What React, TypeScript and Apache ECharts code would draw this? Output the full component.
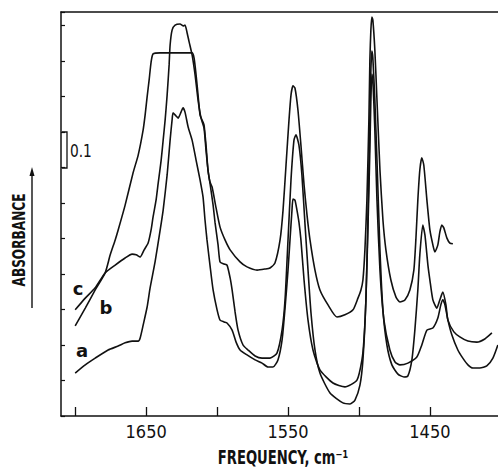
import React, { useEffect, useRef } from "react";
import * as echarts from "echarts";

// Wavenumber (cm-1) vs absorbance for the three spectra.
const FREQ_TICKS = [1450, 1500, 1550, 1600, 1650, 1700];
const FREQ_LABELS = [1450, 1550, 1650];

const spectrumA: [number, number][] = [
  [1700.0, 0.121], [1692.9, 0.144], [1685.9, 0.163], [1676.8, 0.186], [1669.7, 0.197],
  [1664.8, 0.206], [1659.9, 0.211], [1655.6, 0.211], [1654.2, 0.22], [1652.1, 0.256],
  [1649.3, 0.307], [1647.2, 0.361], [1643.7, 0.434], [1640.1, 0.524], [1638.0, 0.58],
  [1635.2, 0.679], [1633.1, 0.777], [1631.7, 0.834], [1631.0, 0.854], [1628.9, 0.845],
  [1627.5, 0.839], [1625.4, 0.856], [1624.0, 0.868], [1622.6, 0.856], [1620.4, 0.814],
  [1617.6, 0.777], [1614.8, 0.721], [1612.0, 0.665], [1609.9, 0.617], [1608.5, 0.552],
  [1607.1, 0.496], [1605.0, 0.425], [1602.8, 0.355], [1600.0, 0.299], [1597.9, 0.27],
  [1595.1, 0.265], [1593.0, 0.262], [1589.4, 0.242], [1586.6, 0.208], [1583.8, 0.186],
  [1578.9, 0.172], [1573.2, 0.158], [1568.3, 0.149], [1564.1, 0.138], [1560.6, 0.138],
  [1557.1, 0.158], [1554.2, 0.214], [1552.1, 0.304], [1550.0, 0.411], [1548.6, 0.496],
  [1547.2, 0.58], [1546.5, 0.611], [1545.1, 0.608], [1543.7, 0.58], [1542.3, 0.546],
  [1540.9, 0.496], [1538.7, 0.383], [1535.9, 0.27], [1532.4, 0.186], [1527.5, 0.13],
  [1518.3, 0.093], [1509.9, 0.082], [1501.4, 0.101], [1497.9, 0.158], [1496.5, 0.214],
  [1495.1, 0.327], [1493.7, 0.524], [1492.3, 0.749], [1491.6, 0.89], [1490.9, 0.963],
  [1490.2, 0.946], [1488.8, 0.806], [1487.3, 0.608], [1485.2, 0.411], [1482.4, 0.27],
  [1478.2, 0.186], [1474.6, 0.152], [1471.1, 0.144], [1465.5, 0.149], [1459.2, 0.166],
  [1455.7, 0.2], [1452.1, 0.242], [1447.9, 0.248], [1444.4, 0.276], [1442.3, 0.313],
  [1440.9, 0.327], [1439.4, 0.313], [1437.3, 0.27], [1434.5, 0.228], [1430.3, 0.186],
  [1426.8, 0.163], [1423.2, 0.144], [1419.7, 0.135], [1414.8, 0.135], [1409.9, 0.141],
  [1405.6, 0.163], [1402.1, 0.2],
];

const spectrumB: [number, number][] = [
  [1700.0, 0.254], [1692.9, 0.304], [1685.9, 0.355], [1678.9, 0.403], [1675.3, 0.454],
  [1671.8, 0.496], [1669.7, 0.524], [1664.8, 0.594], [1659.2, 0.685], [1655.6, 0.735],
  [1652.1, 0.806], [1650.7, 0.848], [1649.3, 0.899], [1647.9, 0.946], [1646.5, 0.997],
  [1645.1, 1.02], [1640.1, 1.023], [1629.6, 1.023], [1617.6, 1.023], [1616.2, 1.008],
  [1614.8, 0.961], [1613.4, 0.904], [1612.0, 0.848], [1610.6, 0.834], [1609.2, 0.82],
  [1607.8, 0.763], [1606.4, 0.693], [1605.0, 0.656], [1602.8, 0.594], [1601.4, 0.544],
  [1599.3, 0.482], [1597.9, 0.434], [1595.1, 0.428], [1593.0, 0.425], [1590.8, 0.389],
  [1589.4, 0.355], [1587.3, 0.293], [1585.2, 0.242], [1581.7, 0.2], [1578.2, 0.186],
  [1573.2, 0.169], [1568.3, 0.163], [1562.7, 0.163], [1557.8, 0.177], [1554.2, 0.242],
  [1552.1, 0.327], [1550.0, 0.496], [1547.9, 0.665], [1545.8, 0.777], [1544.4, 0.792],
  [1542.3, 0.763], [1540.2, 0.679], [1538.0, 0.538], [1535.9, 0.411], [1533.8, 0.29],
  [1531.0, 0.186], [1527.5, 0.121], [1520.4, 0.065], [1511.3, 0.037], [1506.3, 0.034],
  [1502.8, 0.045], [1499.3, 0.087], [1497.2, 0.158], [1495.1, 0.327], [1493.7, 0.552],
  [1492.3, 0.834], [1491.6, 0.975], [1490.9, 1.028], [1490.2, 1.008], [1488.8, 0.89],
  [1487.3, 0.721], [1485.2, 0.468], [1483.1, 0.299], [1480.3, 0.2], [1476.8, 0.144],
  [1472.5, 0.118], [1468.3, 0.11], [1465.5, 0.113], [1462.7, 0.158], [1460.6, 0.242],
  [1458.5, 0.355], [1457.1, 0.454], [1455.0, 0.538], [1453.5, 0.51], [1451.4, 0.425],
  [1450.0, 0.383], [1447.9, 0.327], [1445.1, 0.304], [1443.0, 0.327], [1440.9, 0.349],
  [1438.7, 0.313], [1437.3, 0.27], [1433.1, 0.237], [1428.9, 0.223], [1423.2, 0.211],
  [1416.9, 0.208], [1411.3, 0.217], [1406.3, 0.234],
];

const spectrumC: [number, number][] = [
  [1700.0, 0.299], [1692.9, 0.332], [1685.9, 0.361], [1678.9, 0.403], [1671.8, 0.425],
  [1664.8, 0.445], [1659.9, 0.456], [1657.0, 0.454], [1654.2, 0.448], [1651.4, 0.468],
  [1648.6, 0.487], [1646.5, 0.524], [1645.1, 0.561], [1643.0, 0.608], [1641.5, 0.656],
  [1639.4, 0.721], [1638.0, 0.777], [1636.6, 0.834], [1635.2, 0.904], [1633.8, 0.989],
  [1633.1, 1.045], [1631.7, 1.087], [1629.6, 1.101], [1626.1, 1.104], [1624.0, 1.099],
  [1622.6, 1.101], [1621.1, 1.079], [1619.7, 1.054], [1617.6, 1.017], [1615.5, 0.961],
  [1613.4, 0.89], [1611.3, 0.839], [1609.2, 0.811], [1607.8, 0.749], [1606.4, 0.693],
  [1605.0, 0.659], [1603.5, 0.645], [1600.7, 0.586], [1597.9, 0.532], [1594.4, 0.496],
  [1590.8, 0.468], [1583.8, 0.434], [1578.9, 0.42], [1571.8, 0.411], [1566.2, 0.414],
  [1562.7, 0.417], [1559.2, 0.431], [1555.6, 0.496], [1553.5, 0.58], [1551.4, 0.707],
  [1549.3, 0.834], [1547.9, 0.904], [1546.5, 0.93], [1545.1, 0.924], [1543.0, 0.862],
  [1540.9, 0.763], [1538.7, 0.651], [1536.6, 0.566], [1534.5, 0.496], [1531.0, 0.411],
  [1527.5, 0.355], [1521.8, 0.313], [1515.5, 0.279], [1509.9, 0.285], [1504.2, 0.299],
  [1500.7, 0.332], [1498.6, 0.355], [1497.2, 0.383], [1495.8, 0.468], [1494.4, 0.608],
  [1493.0, 0.834], [1492.3, 1.003], [1491.6, 1.087], [1490.9, 1.124], [1490.2, 1.115],
  [1488.8, 1.031], [1487.3, 0.89], [1485.2, 0.693], [1483.1, 0.552], [1481.0, 0.468],
  [1477.5, 0.383], [1473.9, 0.335], [1471.1, 0.321], [1467.6, 0.327], [1464.1, 0.355],
  [1461.3, 0.411], [1459.9, 0.496], [1458.5, 0.608], [1457.1, 0.693], [1455.7, 0.727],
  [1454.3, 0.707], [1452.1, 0.608], [1450.0, 0.524], [1447.9, 0.482], [1446.5, 0.462],
  [1444.4, 0.482], [1443.0, 0.518], [1441.6, 0.538], [1440.2, 0.53], [1438.0, 0.501],
  [1435.9, 0.487], [1433.8, 0.485],
];

const SERIES_NAMES = ["a", "b", "c"];

const INK = "#111";
const NARROW = '"Liberation Sans Narrow", "DejaVu Sans Condensed", "Liberation Sans", sans-serif';
const ROUND = '"DejaVu Sans", "Liberation Sans", sans-serif';

export default function App() {
  const ref = useRef<HTMLDivElement>(null);

  useEffect(() => {
    if (!ref.current) return;
    const chart = echarts.init(ref.current, null, { renderer: "svg" });

    const line = (name: string, data: [number, number][]) => ({
      name,
      type: "line",
      data,
      showSymbol: false,
      smooth: 0.2,
      lineStyle: { color: INK, width: 1.6 },
      silent: true,
    });

    const curveLabel = (text: string, x: number, y: number) => ({
      type: "text",
      x,
      y,
      style: { text, font: `bold 18px ${ROUND}`, fill: INK, align: "center", verticalAlign: "middle" },
    });

    chart.setOption({
      animation: false,
      backgroundColor: "#fff",
      grid: { left: 61, top: 12, right: 0, bottom: 53, containLabel: false },
      xAxis: [
        {
          type: "value",
          inverse: true,
          min: 1402,
          max: 1710,
          axisLine: { show: true, lineStyle: { color: INK, width: 1.5 } },
          axisTick: {
            show: true,
            inside: true,
            length: 9,
            interval: 0,
            customValues: FREQ_TICKS,
            lineStyle: { color: INK, width: 1.3 },
          },
          axisLabel: {
            margin: 6,
            color: INK,
            fontFamily: NARROW,
            fontSize: 18,
            interval: 0,
            hideOverlap: false,
            customValues: FREQ_LABELS,
            formatter: (v: number) => String(v),
          },
          splitLine: { show: false },
        },
        {
          type: "value",
          position: "top",
          inverse: true,
          min: 1402,
          max: 1710,
          axisLine: { show: true, onZero: false, lineStyle: { color: INK, width: 1.5 } },
          axisTick: { show: false },
          axisLabel: { show: false },
          splitLine: { show: false },
        },
      ],
      yAxis: {
        type: "value",
        min: 0,
        max: 1.138,
        interval: 0.1,
        axisLine: { show: true, lineStyle: { color: INK, width: 1.5 } },
        axisTick: { show: true, inside: true, length: 4, lineStyle: { color: INK, width: 1.2 } },
        axisLabel: { show: false },
        splitLine: { show: false },
      },
      series: [
        line(SERIES_NAMES[0], spectrumA),
        line(SERIES_NAMES[1], spectrumB),
        line(SERIES_NAMES[2], spectrumC),
      ],
      graphic: [
        // vertical axis title with its arrow
        {
          type: "text",
          x: 18.5,
          y: 240,
          rotation: Math.PI / 2,
          scaleX: 0.75,
          style: {
            text: "ABSORBANCE",
            font: `bold 18px ${NARROW}`,
            fill: INK,
            align: "center",
            verticalAlign: "middle",
          },
        },
        { type: "line", shape: { x1: 32, y1: 308, x2: 32, y2: 174 }, style: { stroke: INK, lineWidth: 1.4 } },
        { type: "polygon", shape: { points: [[32, 167], [29.5, 176], [34.5, 176]] }, style: { fill: INK } },
        // 0.1 absorbance scale bracket
        {
          type: "polyline",
          shape: { points: [[62, 132], [67, 132], [67, 168], [62, 168]] },
          style: { stroke: INK, lineWidth: 1.3, fill: "none" },
        },
        {
          type: "text",
          x: 70,
          y: 151,
          scaleX: 0.9,
          style: { text: "0.1", font: `17px ${NARROW}`, fill: INK, align: "left", verticalAlign: "middle" },
        },
        // curve labels
        curveLabel(SERIES_NAMES[2], 78, 288),
        curveLabel(SERIES_NAMES[1], 106, 307),
        curveLabel(SERIES_NAMES[0], 82, 350),
        // horizontal axis title
        {
          type: "text",
          x: 283,
          y: 457,
          scaleX: 0.77,
          style: {
            text: "FREQUENCY, cm⁻¹",
            font: `bold 19px ${NARROW}`,
            fill: INK,
            align: "center",
            verticalAlign: "middle",
          },
        },
      ],
    });

    return () => chart.dispose();
  }, []);

  return (
    <div
      ref={ref}
      style={{ position: "fixed", left: 0, top: 0, width: 498, height: 469, background: "#fff" }}
    />
  );
}
